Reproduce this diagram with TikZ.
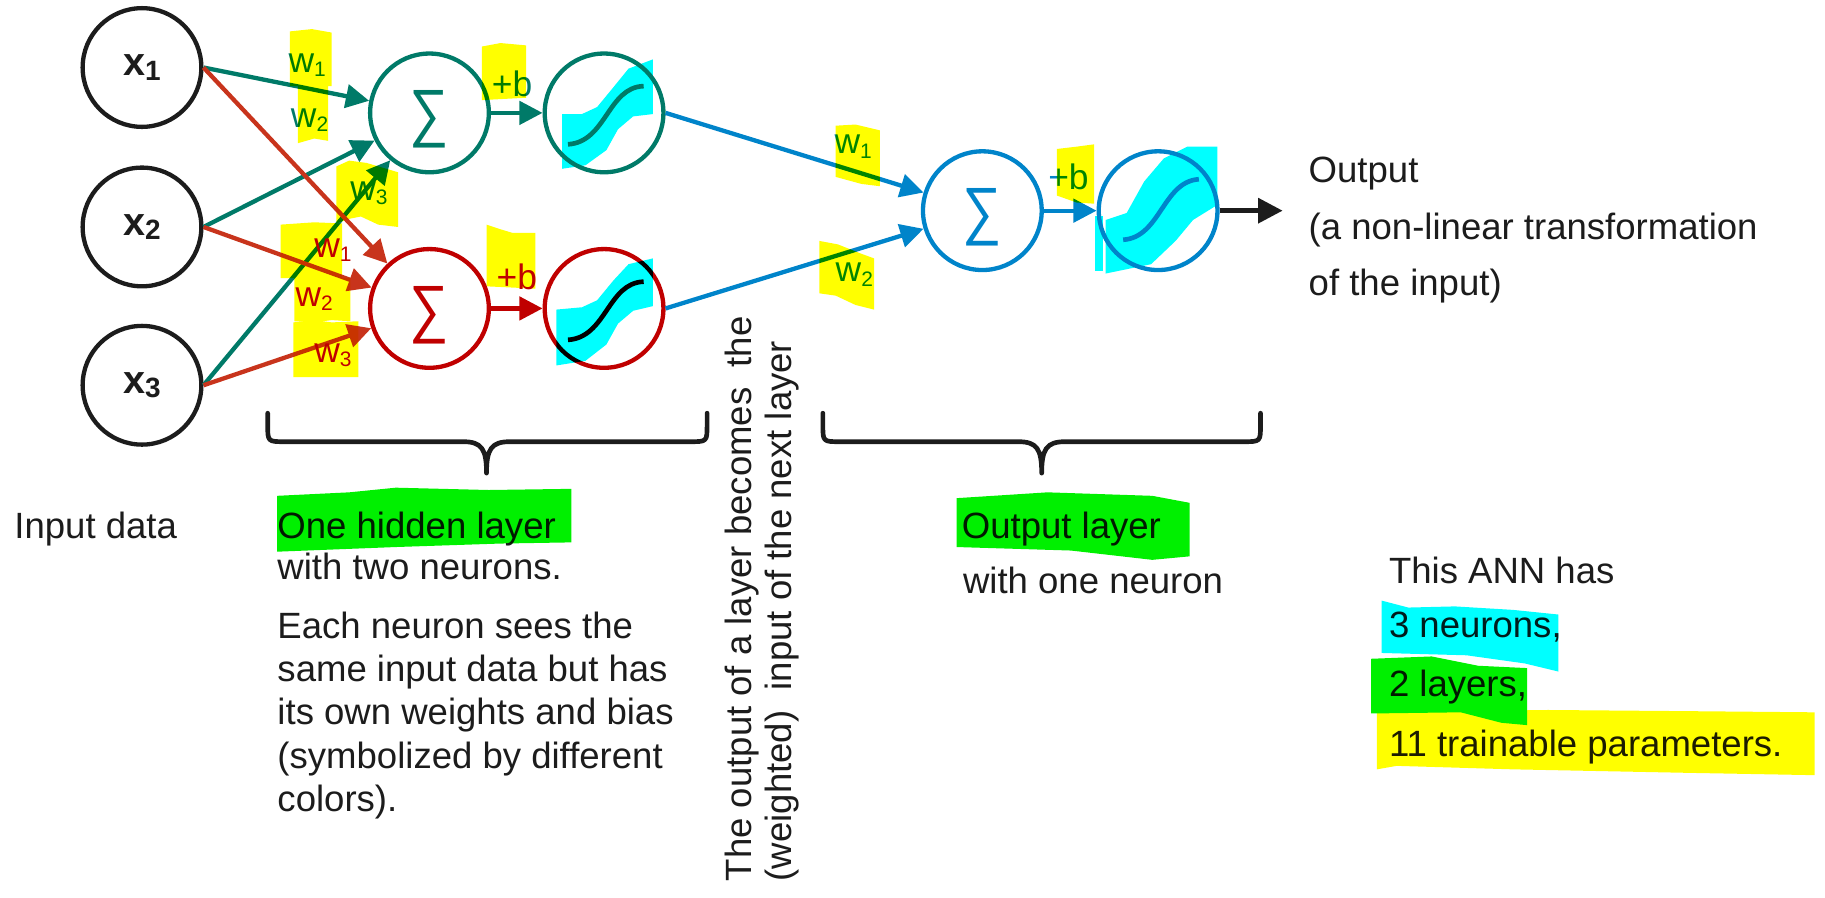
\documentclass[tikz,border=0pt]{standalone}
\usepackage{fontspec}
\setmainfont{Liberation Sans}
\usetikzlibrary{arrows.meta}
\definecolor{tealc}{RGB}{0,122,104}
\definecolor{redc}{RGB}{192,0,0}
\definecolor{redarr}{RGB}{200,52,28}
\definecolor{bluec}{RGB}{0,132,202}
\definecolor{textc}{RGB}{28,28,28}
\definecolor{hlyellow}{RGB}{255,255,0}
\definecolor{hlgreen}{RGB}{0,240,0}
\definecolor{hlcyan}{RGB}{0,255,255}
\newcommand\xsub[1]{\raisebox{-2pt}{\fontsize{12}{12}\selectfont #1}}
\newcommand\wsub[1]{\raisebox{-1.9pt}{\fontsize{9}{9}\selectfont #1}}
\begin{document}
\begin{tikzpicture}[x=0.5pt,y=-0.5pt,
  font=\fontsize{15.7}{18}\selectfont, text=textc,
  inp/.style={circle,draw=textc,line width=1.85pt,minimum size=51pt,inner sep=0pt,
    font=\fontsize{17}{17}\selectfont\bfseries},
  neuron/.style={circle,draw=#1,line width=1.85pt,minimum size=51pt,inner sep=0pt},
  sigtext/.style={inner sep=0pt,xscale=0.86,font=\fontsize{27.5}{27.5}\selectfont},
  wl/.style={inner sep=0pt,font=\fontsize{15.2}{15.2}\selectfont},
  txt/.style={anchor=base west,inner sep=0pt},
  arr/.style={line width=1.85pt,-{Triangle[length=10pt,width=10pt]}},
  sigcurve/.style={line width=2pt,draw=#1},
  bracestyle/.style={line width=2pt,draw=textc,line cap=round,line join=round},
]
\useasboundingbox (0,0) rectangle (1568,771);

% input nodes
\node[inp] (x1) at (122,58) {x\xsub{1}};
\node[inp] (x2) at (122,195) {x\xsub{2}};
\node[inp] (x3) at (122,331) {x\xsub{3}};

% neurons
\node[neuron=tealc] (gs) at (369,97) {};
\node[neuron=tealc] (gsig) at (519,97) {};
\node[neuron=redc] (rs) at (369,265) {};
\node[neuron=redc] (rsig) at (519,265) {};
\node[neuron=bluec] (bs) at (844,181) {};
\node[neuron=bluec] (bsig) at (995,181) {};
\coordinate (outend) at (1102,181);

% sigma glyphs
\node[sigtext,text=tealc] (gsT) at ([yshift=-2.8pt]gs.center) {∑};
\node[sigtext,text=redc] (rsT) at ([yshift=-2.8pt]rs.center) {∑};
\node[sigtext,text=bluec] (bsT) at ([yshift=-2.8pt]bs.center) {∑};

% sigmoid curves
\draw[sigcurve=tealc,shift={(gsig.center)}] (-31,27) .. controls (2,25) and (3,-22) .. (34,-23);
\draw[sigcurve=black,shift={(rsig.center)}] (-31,27) .. controls (2,25) and (3,-22) .. (34,-23);
\draw[sigcurve=bluec,shift={(bsig.center)}] (-30,25) .. controls (2,23) and (4,-25) .. (35,-27);

% connectors hidden green
\draw[arr,tealc] (x1.east) -- (gs);
\draw[arr,tealc] (x2.east) -- (gs);
\draw[arr,tealc] (x3.east) -- (gs);
% connectors hidden red
\draw[arr,redarr] (x1.east) -- (rs);
\draw[arr,redarr] (x2.east) -- (rs);
\draw[arr,redarr] (x3.east) -- (rs);
% sum -> activation
\draw[arr,tealc] (gs) -- (gsig);
\draw[arr,redc] (rs) -- (rsig);
\draw[arr,bluec] (bs) -- (bsig);
% hidden -> output
\draw[arr,bluec] (gsig.east) -- (bs);
\draw[arr,bluec] (rsig.east) -- (bs);
% output arrow
\draw[line width=2pt,textc,-{Triangle[length=10.5pt,width=10.5pt]}] (bsig.east) -- (outend);

% weight labels
\node[wl,text=tealc] (gw1) at (264,56) {w\wsub{1}};
\node[wl,text=tealc] (gw2) at (266,103) {w\wsub{2}};
\node[wl,text=tealc] (gw3) at (317,166) {w\wsub{3}};
\node[wl,text=redc] (rw1) at (286,215) {w\wsub{1}};
\node[wl,text=redc] (rw2) at (270,257) {w\wsub{2}};
\node[wl,text=redc] (rw3) at (286,305) {w\wsub{3}};
\node[wl,text=bluec] (bw1) at (733,126) {w\wsub{1}};
\node[wl,text=bluec] (bw2) at (734,236) {w\wsub{2}};
\node[wl,text=tealc] (gb) at (440,72) {+b};
\node[wl,text=redc] (rb) at (444,238) {+b};
\node[wl,text=bluec] (bb) at (918,152) {+b};

% braces
\draw[bracestyle] (230,355) -- (230,365) .. controls (230,379.5) .. (245,379.5) -- (398,379.5)
  .. controls (414,379.5) and (418,386) .. (418,406.5)
  .. controls (418,386) and (422,379.5) .. (438,379.5) -- (592.5,379.5)
  .. controls (607.5,379.5) .. (607.5,365) -- (607.5,355);
\draw[bracestyle] (707,355) -- (707,365) .. controls (707,379.5) .. (722,379.5) -- (875,379.5)
  .. controls (891,379.5) and (895,386) .. (895,406.5)
  .. controls (895,386) and (899,379.5) .. (915,379.5) -- (1068,379.5)
  .. controls (1083,379.5) .. (1083,365) -- (1083,355);

% texts
\node[txt] (inputdata) at (12,463) {Input data};
\node[txt] (hid1) at (238,463) {One hidden layer};
\node[txt] (hid2) at (238,497.7) {with two neurons.};
\node[txt] (p1) at (238,548.4) {Each neuron sees the};
\node[txt] (p2) at (238,585.6) {same input data but has};
\node[txt] (p3) at (238,622.8) {its own weights and bias};
\node[txt] (p4) at (238,660) {(symbolized by different};
\node[txt] (p5) at (238,697.2) {colors).};
\node[txt,rotate=90] (rot1) at (646,757.5) {The output of a layer becomes\ \ the};
\node[txt,rotate=90] (rot2) at (680,757.5) {(weighted)\ \ input of the next layer};
\node[txt] (ol1) at (826,462.5) {Output layer};
\node[txt] (ol2) at (827,510) {with one neuron};
\node[txt] (out1) at (1124,157) {Output};
\node[txt] (out2) at (1124,205.5) {(a non-linear transformation};
\node[txt] (out3) at (1124,254) {of the input)};
\node[txt] (ann1) at (1193,501) {This ANN has};
\node[txt] (ann2) at (1193,547.5) {3 neurons,};
\node[txt] (ann3) at (1193,598.5) {2 layers,};
\node[txt] (ann4) at (1193,650) {11 trainable parameters.};

% highlighter strokes
\begin{scope}[blend mode=multiply]
\fill[hlyellow] (249,27) -- (268,25) -- (285,28) -- (285,74) -- (282,74) -- (282,121) -- (270,119) -- (256,123) -- (256,74) -- (249,74) -- cycle;
\fill[hlyellow] (289,143) -- (300,138) -- (315,140) -- (342,148) -- (342,195) -- (325,193) -- (310,186) -- (300,188) -- (289,192) -- cycle;
\fill[hlyellow] (241,193) -- (270,191) -- (294,192) -- (294,239) -- (241,239) -- cycle;
\fill[hlyellow] (253,239) -- (301,239) -- (301,276) -- (285,275) -- (270,277) -- (253,276) -- cycle;
\fill[hlyellow] (252,277) -- (270,275) -- (285,277) -- (308,276) -- (308,324) -- (252,324) -- cycle;
\fill[hlyellow] (414,40) -- (430,37) -- (452,39) -- (452,84) -- (414,86) -- cycle;
\fill[hlyellow] (418,193) -- (430,197) -- (440,200) -- (460,200) -- (460,248) -- (418,246) -- cycle;
\fill[hlyellow] (718,108) -- (735,107) -- (756,112) -- (756,160) -- (740,158) -- (718,152) -- cycle;
\fill[hlyellow] (704,207) -- (720,210) -- (740,218) -- (751,222) -- (751,266) -- (735,262) -- (718,254) -- (704,252) -- cycle;
\fill[hlyellow] (908,128) -- (925,126) -- (940,124) -- (940,175) -- (925,174) -- (908,168) -- cycle;
% sigmoid cyan bands
\fill[hlcyan,shift={(gsig.center)}] (-36,1) -- (-19,1) -- (-6,-5) -- (8,-22) -- (21,-38) -- (42,-46) -- (42,1) -- (25,3) -- (12,14) -- (2,32) -- (-16,45) -- (-36,48) -- cycle;
\fill[hlcyan,shift={(rsig.center)}] (-41,1) -- (-19,-1) -- (-6,-7) -- (8,-24) -- (21,-38) -- (42,-43) -- (42,-2) -- (25,2) -- (12,13) -- (2,31) -- (-16,45) -- (-41,49) -- cycle;
\fill[hlcyan,shift={(bsig.center)}] (-45,8) -- (-27,2) -- (-12,-25) -- (5,-45) -- (25,-55) -- (51,-55) -- (51,-5) -- (30,8) -- (15,26) -- (-6,46) -- (-45,54) -- cycle;
\fill[hlcyan,shift={(bsig.center)}] (-54,5) rectangle (-47,52);
% text highlights
\fill[hlgreen] (238,426) -- (300,423) -- (340,419) -- (420,421) -- (491,420) -- (491,466) -- (430,467) -- (340,470) -- (238,474) -- cycle;
\fill[hlgreen] (822,428) -- (900,423) -- (990,426) -- (1022,432) -- (1022,478) -- (990,481) -- (920,473) -- (822,470) -- cycle;
\fill[hlcyan] (1187,516) -- (1210,522) -- (1250,521) -- (1300,524) -- (1339,528) -- (1339,577) -- (1310,570) -- (1260,563) -- (1187,561) -- cycle;
\fill[hlgreen] (1178,566) -- (1230,564) -- (1270,572) -- (1312,574) -- (1312,623) -- (1290,621) -- (1255,612) -- (1178,613) -- cycle;
\fill[hlyellow] (1183,612) -- (1250,611) -- (1330,610) -- (1450,611) -- (1559,612) -- (1559,666) -- (1450,664) -- (1300,661) -- (1200,658) -- (1183,661) -- cycle;
\end{scope}
\end{tikzpicture}
\end{document}
